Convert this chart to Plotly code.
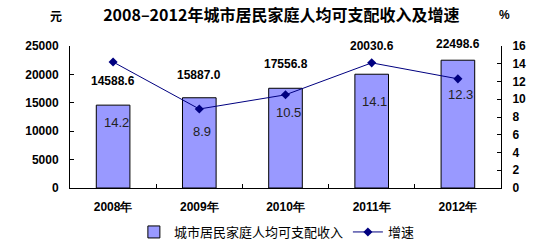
import plotly.graph_objects as go

years = ["2008年", "2009年", "2010年", "2011年", "2012年"]
income = [14588.6, 15887.0, 17556.8, 20030.6, 22498.6]
income_labels = ["14588.6", "15887.0", "17556.8", "20030.6", "22498.6"]
growth = [14.2, 8.9, 10.5, 14.1, 12.3]
growth_labels = ["14.2", "8.9", "10.5", "14.1", "12.3"]

# label offsets (px), styles only
income_shift = [24, 23, 24, 28, 16]
growth_shift = [-17, -34, -24, -27, -34]

BOLD = "Liberation Sans, Arial, sans-serif"
CJK = "Noto Sans CJK SC, sans-serif"

fig = go.Figure()
fig.add_trace(go.Bar(
    x=years, y=income, name="城市居民家庭人均可支配收入",
    marker=dict(color="#9999FF", line=dict(color="black", width=1)),
    width=0.39,
))
fig.add_trace(go.Scatter(
    x=years, y=growth, name="增速", yaxis="y2", mode="lines+markers",
    line=dict(color="#000080", width=1),
    marker=dict(symbol="diamond", size=7, color="#000080"),
))

for x, v, t, s in zip(years, income, income_labels, income_shift):
    fig.add_annotation(x=x, y=v, xref="x", yref="y", text=t, showarrow=False,
                       yshift=s, yanchor="middle",
                       font=dict(family=BOLD, size=12, color="black", weight="bold"))
for x, v, t, s in zip(years, income, growth_labels, growth_shift):
    fig.add_annotation(x=x, y=v, xref="x", yref="y", text=t, showarrow=False,
                       yshift=s, xshift=3, yanchor="middle",
                       font=dict(family="Liberation Sans, Arial, sans-serif", size=13, color="#222"))

fig.add_annotation(text="元", x=-0.05, y=1.218, xref="paper", yref="paper", showarrow=False,
                   yanchor="middle",
                   font=dict(family=CJK, size=12, color="black", weight="bold"))
fig.add_annotation(text="%", x=1.025, y=1.218, xref="paper", yref="paper", showarrow=False,
                   yanchor="middle",
                   font=dict(family=BOLD, size=12, color="black", weight="bold"))

fig.update_layout(
    width=557, height=248,
    margin=dict(l=70, r=56, t=46, b=60, autoexpand=False),
    paper_bgcolor="white", plot_bgcolor="white",
    title=dict(text="2008–2012年城市居民家庭人均可支配收入及增速", x=0.505, xanchor="center",
               y=1 - 15 / 248, yref="container", yanchor="middle",
               font=dict(family=CJK, size=16, color="black", weight="bold")),
    showlegend=True,
    legend=dict(orientation="h", x=0.48, xanchor="center", y=1 - 232 / 248, yref="container",
                yanchor="middle",
                font=dict(family=CJK, size=13, color="black"),
                itemwidth=30, tracegroupgap=0, bgcolor="rgba(0,0,0,0)"),
    xaxis=dict(type="category", showline=True, linecolor="black", linewidth=1,
               ticks="inside", ticklen=4, tickcolor="black", tickson="boundaries",
               showgrid=False, automargin=False, ticklabelstandoff=8,
               tickfont=dict(family=BOLD, size=12, color="black", weight="bold")),
    yaxis=dict(range=[0, 25000], dtick=5000, tickformat="d", showline=True, linecolor="black",
               linewidth=1, automargin=False, ticklabelstandoff=8,
               ticks="inside", ticklen=4, tickcolor="black", showgrid=False, zeroline=False,
               tickfont=dict(family=BOLD, size=12, color="black", weight="bold")),
    yaxis2=dict(range=[0, 16], dtick=2, overlaying="y", side="right", showline=True,
                linecolor="black", linewidth=1, ticks="inside", ticklen=4, tickcolor="black",
                showgrid=False, zeroline=False, automargin=False, ticklabelstandoff=8,
                tickfont=dict(family=BOLD, size=12, color="black", weight="bold")),
    bargap=0.6,
)

fig.write_html("out.html")
